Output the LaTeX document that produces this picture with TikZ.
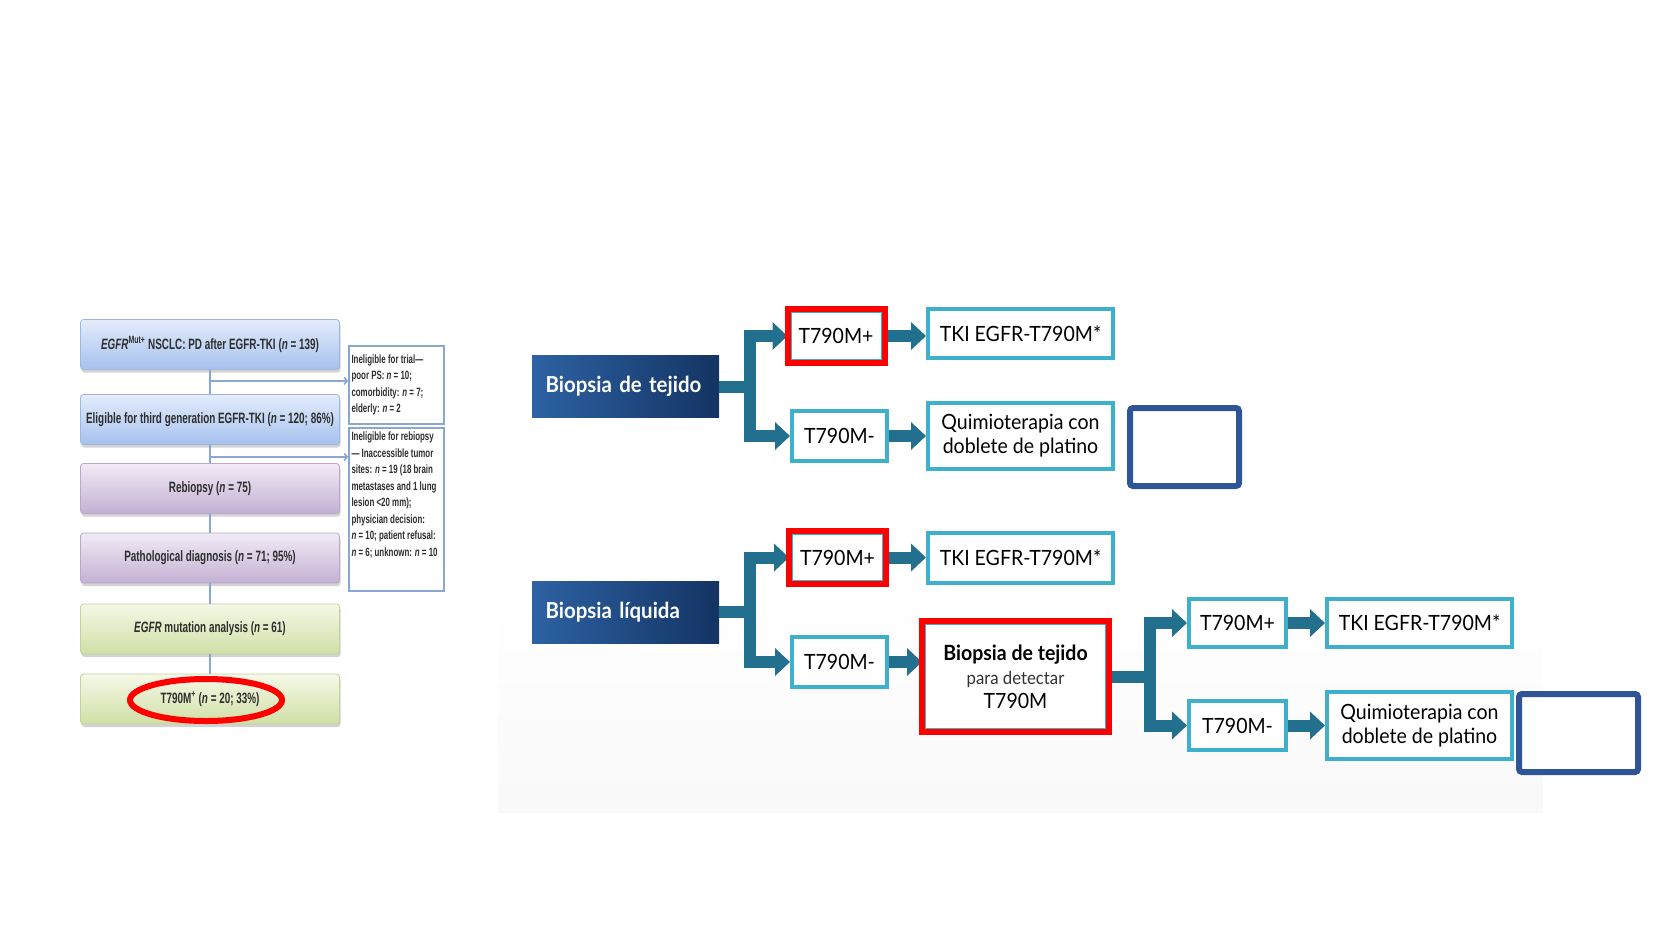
\documentclass[tikz,border=0pt]{standalone}
\usepackage{fontspec}
\setmainfont{Lato}[FakeStretch=0.93]
\newfontfamily\narrowfont{Liberation Sans}[FakeStretch=0.66]
\usetikzlibrary{arrows.meta,fit,shadows}

\definecolor{barteal}{HTML}{23708E}
\definecolor{boxteal}{HTML}{3DB0CC}
\definecolor{navyA}{HTML}{2D62A3}
\definecolor{navyB}{HTML}{143463}
\definecolor{panelblue}{HTML}{2F5597}
\definecolor{flowline}{HTML}{8AA6D2}
\definecolor{flowtxt}{HTML}{2E2E2E}
\definecolor{blueA}{HTML}{E3ECFB}
\definecolor{blueB}{HTML}{A6C1EE}
\definecolor{violetA}{HTML}{F1EBF5}
\definecolor{violetB}{HTML}{C3B0D3}
\definecolor{greenA}{HTML}{F5F8E7}
\definecolor{greenB}{HTML}{D0DFA6}

\begin{document}
\begin{tikzpicture}[x=1pt,y=-1pt,
  flowbox/.style 2 args={rounded corners=3, top color=#1, bottom color=#2,
    draw=#2!85!gray, line width=0.8, minimum width=259, minimum height=50,
    drop shadow={shadow xshift=1pt, shadow yshift=-3pt, opacity=0.35},
    text=flowtxt, font=\narrowfont\bfseries\fontsize{15}{18}\selectfont},
  blueflow/.style={flowbox={blueA}{blueB}},
  violetflow/.style={flowbox={violetA}{violetB}},
  greenflow/.style={flowbox={greenA}{greenB}},
  sidebox/.style={draw=flowline, line width=1.6, fill=white, inner sep=2.5,
    text=flowtxt, font=\narrowfont\bfseries\fontsize{12}{16.5}\selectfont},
  flowlink/.style={draw=flowline, line width=1.6},
  flowarrow/.style={flowlink, -{Straight Barb[length=3pt,width=7pt]}},
  navybox/.style={left color=navyA, right color=navyB, minimum height=62,
    text width=160, inner xsep=13.5, align=left, text=white,
    font=\bfseries\fontsize{22}{26}\selectfont},
  tbox/.style={draw=boxteal, line width=4, fill=white, inner sep=2,
    font=\fontsize{21}{24}\selectfont},
  redhl/.style={draw=red, line width=6, inner sep=0},
  emptybox/.style={draw=panelblue, line width=6, rounded corners=3, fill=white,
    minimum height=78},
  bar/.style={barteal, line width=12, line join=miter},
  bararrow/.style={bar, -{Triangle[width=27pt,length=15pt]}}]

  \useasboundingbox (0,0) rectangle (1680,945);

  % faint panel behind the right chart
  \fill[top color=white, bottom color=black!2.5] (498,600) rectangle (1543,812);

  % Left: patient flow
  \node[blueflow] (b1) at (210,344.5)
    {\textit{EGFR}\textsuperscript{Mut+} NSCLC: PD after EGFR-TKI (\textit{n} = 139)};
  \node[blueflow] (b2) at (210,419.5)
    {Eligible for third generation EGFR-TKI (\textit{n} = 120; 86\%)};
  \node[violetflow] (b3) at (210,488.5) {Rebiopsy (\textit{n} = 75)};
  \node[violetflow] (b4) at (210,558) {Pathological diagnosis (\textit{n} = 71; 95\%)};
  \node[greenflow] (b5) at (210,629) {\textit{EGFR} mutation analysis (\textit{n} = 61)};
  \node[greenflow] (b6) at (210,699) {T790M\textsuperscript{+} (\textit{n} = 20; 33\%)};

  \node[sidebox, minimum width=95, minimum height=78] (s1) at (396.5,385)
    {\parbox{90pt}{\raggedright Ineligible for trial—\\poor PS: \textit{n} = 10;\\
     comorbidity: \textit{n} = 7;\\elderly: \textit{n} = 2}};
  \node[sidebox, minimum width=95, minimum height=163] (s2) at (396.5,509.5)
    {\parbox[c][155pt][t]{90pt}{\raggedright Ineligible for rebiopsy\\— Inaccessible tumor\\
     sites: \textit{n} = 19 (18 brain\\metastases and 1 lung\\lesion <20 mm);\\
     physician decision:\\\textit{n} = 10; patient refusal:\\\mbox{\textit{n} = 6; unknown: \textit{n} = 10}}};

  \foreach \a/\b in {b1/b2,b2/b3,b3/b4,b4/b5,b5/b6}
    \draw[flowlink] (\a.south) -- (\b.north);
  \path (b1.south) ++(0,11) coordinate (br1);
  \path (b2.south) ++(0,12) coordinate (br2);
  \draw[flowarrow] (br1) -- (br1 -| s1.west);
  \draw[flowarrow] (br2) -- (br2 -| s2.west);

  % highlight on the T790M+ result
  \draw[red, line width=6] (b6.center) ++(-4,1) ellipse [x radius=76, y radius=21];

  % Right: tissue biopsy
  \node[navybox] (bt) at (625.5,386.5) {Biopsia de tejido};
  \node[tbox, minimum width=93, minimum height=50] (p1) at (836,336) {T790M+};
  \node[tbox, minimum width=95, minimum height=50] (m1) at (839.5,436) {T790M-};
  \node[tbox, minimum width=185, minimum height=49] (tki1) at (1020.5,333.5) {TKI EGFR-T790M*};
  \node[tbox, minimum width=185, minimum height=66, align=center] (q1) at (1020.5,436)
    {Quimioterapia con\\doblete de platino};
  \node[emptybox, minimum width=109] (e1) at (1184.5,447) {};

  \path (bt.east) ++(31,0) coordinate (jt);
  \draw[bar] (bt.east) -- (jt);
  \draw[bararrow] (jt) |- (p1.west);
  \draw[bararrow] (jt) |- (m1.west);
  \draw[bararrow] (p1.east) -- (p1.east -| tki1.west);
  \draw[bararrow] (m1.east) -- (m1.east -| q1.west);
  \node[redhl, fit=(p1)] (p1hl) {};

  % Right: liquid biopsy
  \node[navybox] (bl) at (625.5,612) {Biopsia líquida};
  \node[tbox, minimum width=93, minimum height=49] (p2) at (837.5,557.5) {T790M+};
  \node[tbox, minimum width=95, minimum height=50] (m2) at (839.5,662) {T790M-};
  \node[tbox, minimum width=185, minimum height=50] (tki2) at (1020.5,558) {TKI EGFR-T790M*};
  \node[tbox, minimum width=183, minimum height=107, align=center] (r2) at (1015.5,676.5)
    {\textbf{Biopsia de tejido}\\{\fontsize{18}{22}\selectfont\color{black!80} para detectar}\\T790M};

  \path (bl.east) ++(31,0) coordinate (jl);
  \draw[bar] (bl.east) -- (jl);
  \draw[bararrow] (jl) |- (p2.west);
  \draw[bararrow] (jl) |- (m2.west);
  \draw[bararrow] (p2.east) -- (p2.east -| tki2.west);
  \draw[bararrow] (m2.east) -- (m2.east -| r2.west);
  \node[redhl, fit=(p2)] (p2hl) {};
  \node[redhl, fit=(r2)] (r2hl) {};

  % second tissue biopsy
  \node[tbox, minimum width=97, minimum height=48] (p3) at (1237.5,623) {T790M+};
  \node[tbox, minimum width=185, minimum height=48] (tki3) at (1419.5,623) {TKI EGFR-T790M*};
  \node[tbox, minimum width=97, minimum height=49] (m3) at (1237.5,725.5) {T790M-};
  \node[tbox, minimum width=185, minimum height=67, align=center] (q3) at (1419.5,725.5)
    {Quimioterapia con\\doblete de platino};
  \node[emptybox, minimum width=119] (e2) at (1578.5,733) {};

  \path (r2hl.east) ++(38,0) coordinate (jr);
  \draw[bar] (r2hl.east) -- (jr);
  \draw[bararrow] (jr) |- (p3.west);
  \draw[bararrow] (jr) |- (m3.west);
  \draw[bararrow] (p3.east) -- (p3.east -| tki3.west);
  \draw[bararrow] (m3.east) -- (m3.east -| q3.west);
\end{tikzpicture}
\end{document}
